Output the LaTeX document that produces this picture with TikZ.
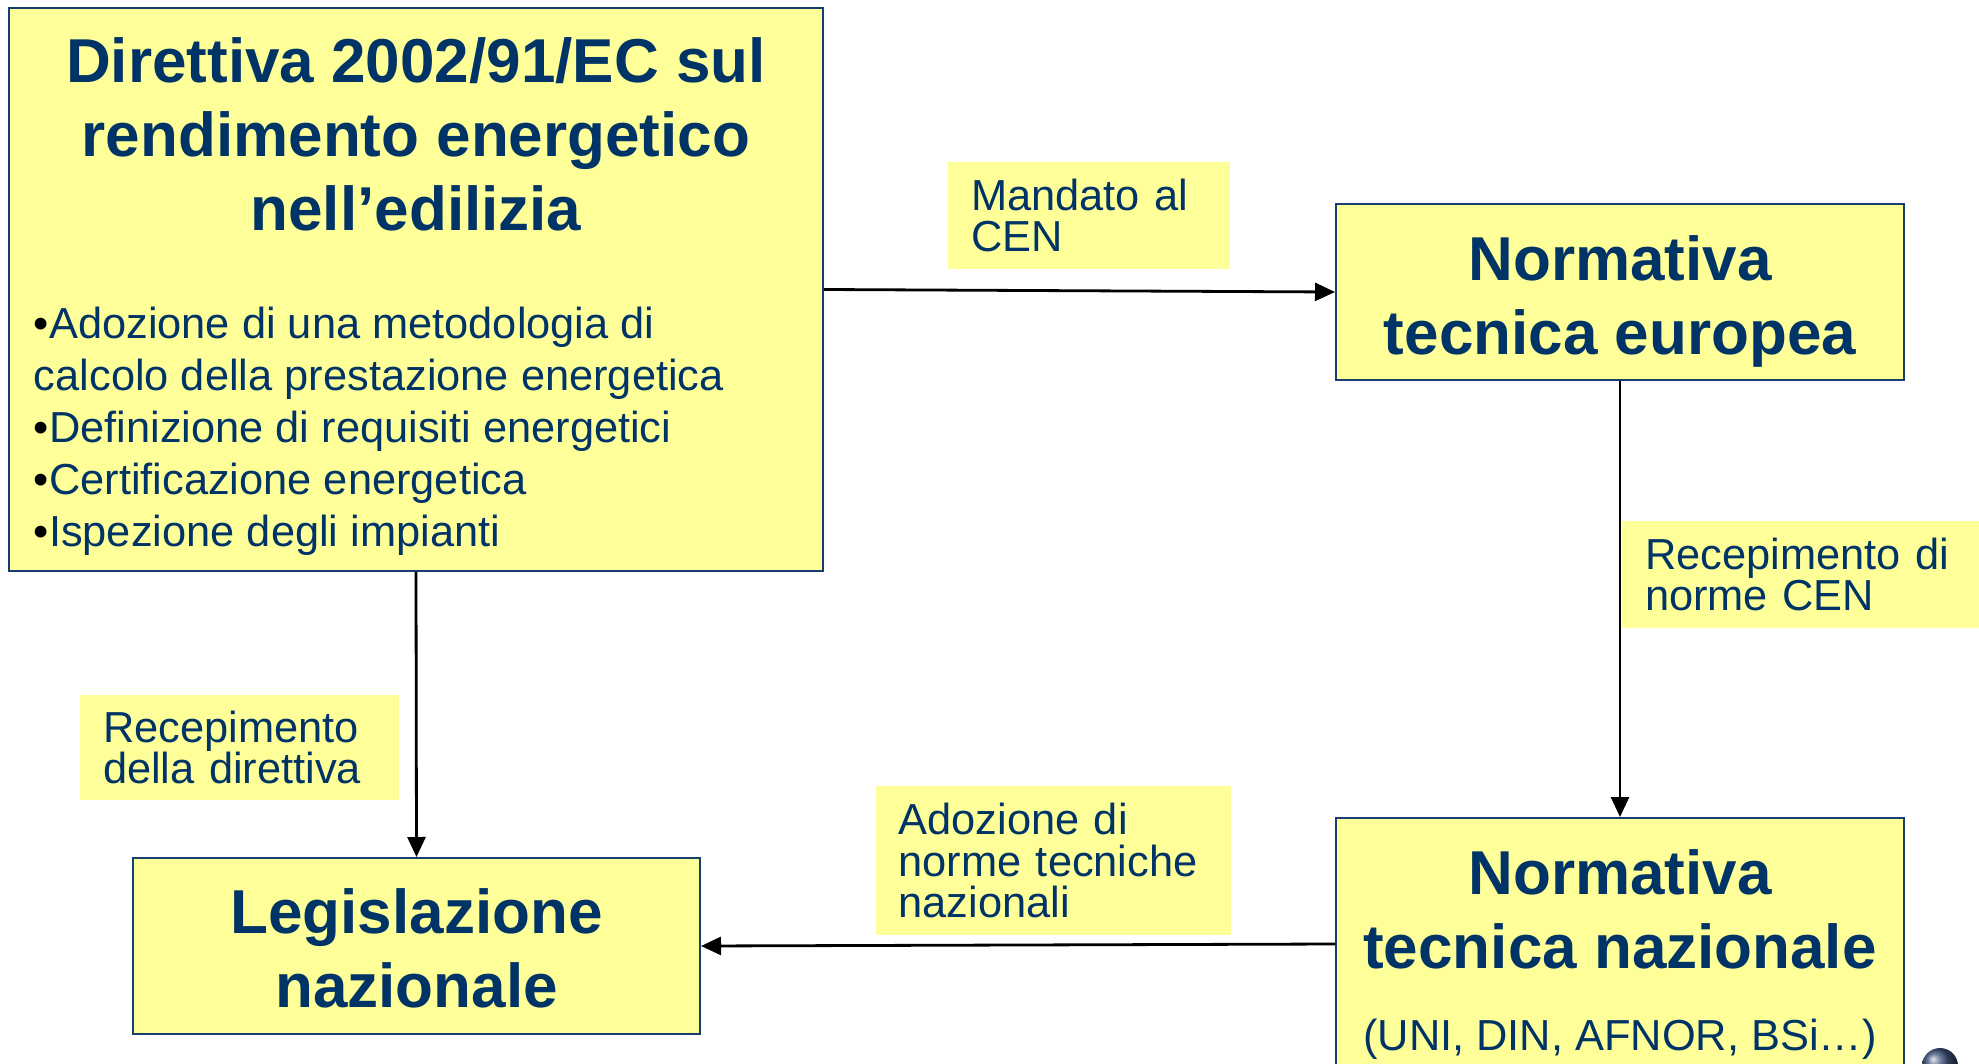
\documentclass[tikz,border=0pt]{standalone}
\usepackage{fontspec}
\setmainfont{Liberation Sans}
\usetikzlibrary{positioning,arrows.meta}

\definecolor{boxyellow}{RGB}{255,255,153}
\definecolor{textblue}{RGB}{0,51,102}
\definecolor{boxblue}{RGB}{22,62,112}
\definecolor{spherecol}{RGB}{60,80,120}

\newcommand{\boxtitlefont}{\fontsize{31}{37}\selectfont\bfseries}
\newcommand{\listfont}{\fontsize{21.7}{26}\selectfont}
\newcommand{\tagfont}{\fontsize{21.7}{20.9}\selectfont}
\newcommand{\topstrut}[1]{\rule{0pt}{#1}}
\newcommand{\bul}{{\color{black}•}}

\begin{document}
\begin{tikzpicture}[x=0.5pt, y=-0.5pt]
\tikzstyle{mainbox}=[rectangle, draw=boxblue, line width=1pt, fill=boxyellow, text=textblue, inner sep=2pt, align=center, font=\boxtitlefont]
\tikzstyle{tagbox}=[rectangle, fill=boxyellow, text=textblue, inner xsep=11.5pt, inner ysep=2pt, align=left, font=\tagfont]
\tikzstyle{plaintext}=[inner sep=0pt, text=textblue]
\tikzstyle{drawstyle}=[line width=1.4pt, -{Triangle[length=10pt,width=9pt]}]

\useasboundingbox (0,0) rectangle (1979,1064);
\clip (0,0) rectangle (1979,1064);

% boxes
\node[mainbox, minimum width=407pt, minimum height=281.5pt] (direttiva) at (416,289.5) {};
\node[plaintext, align=center, font=\boxtitlefont, below=13.75pt of direttiva.north] (dirtitle) {\topstrut{24pt}Direttiva 2002/91/EC sul\\rendimento energetico\\nell’edilizia};
\node[plaintext, align=left, font=\listfont, below right=147.5pt and 12.75pt of direttiva.north west] (dirlist) {\topstrut{18pt}\bul Adozione di una metodologia di\\calcolo della prestazione energetica\\\bul Definizione di requisiti energetici\\\bul Certificazione energetica\\\bul Ispezione degli impianti};
\node[mainbox, minimum width=284pt, minimum height=88pt] (europea) at (1620,292) {\topstrut{32pt}Normativa\\tecnica europea};
\node[mainbox, minimum width=283.5pt, minimum height=88pt] (legislazione) at (416.5,946) {\topstrut{25pt}Legislazione\\nazionale};
\node[mainbox, minimum width=284pt, minimum height=126pt] (nazionale) at (1620,944) {\topstrut{33pt}Normativa\\tecnica nazionale\\[4pt]{\mdseries\fontsize{21.7}{26}\selectfont(UNI, DIN, AFNOR, BSi…)}};

% arrows
\draw[drawstyle] (direttiva.east) -- (europea.west);
\draw[drawstyle] (europea.south) -- (nazionale.north);
\draw[drawstyle] (direttiva.south) -- (legislazione.north);
\draw[drawstyle] (nazionale.west) -- (legislazione.east);

% labels
\node[tagbox, text width=118pt, minimum height=53.5pt] (mandato) at (1089,215.5) {Mandato al\\CEN};
\node[tagbox, text width=158pt, minimum height=53.5pt] (reccen) at (1803,574.5) {Recepimento di\\norme CEN};
\node[tagbox, text width=136.5pt, minimum height=52.5pt] (recdir) at (239.5,747.5) {Recepimento\\della direttiva};
\node[tagbox, text width=154.5pt, minimum height=74.5pt] (adozione) at (1053,860.5) {Adozione di\\norme tecniche\\nazionali};

\shade[ball color=spherecol] (1940,1066) circle (9pt);
\end{tikzpicture}
\end{document}
